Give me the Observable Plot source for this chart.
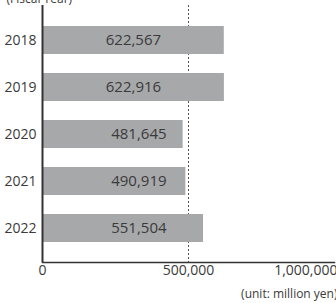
<!DOCTYPE html>
<html><head><meta charset="utf-8">
<script src="https://cdn.jsdelivr.net/npm/d3@7"></script>
<script src="https://cdn.jsdelivr.net/npm/@observablehq/plot@0.6"></script>
<style>body{margin:0;background:#fff;} svg{overflow:visible;}</style>
</head><body><div id="chart"></div>
<script>
const years = ["2018","2019","2020","2021","2022"];
const values = [622567, 622916, 481645, 490919, 551504];
const ticks = [0, 500000, 1000000];
const refLine = 500000;
const unitText = "(unit: million yen)";
const yAxisTitle = "(Fiscal Year)";

const data = years.map((y, i) => ({year: y, value: values[i]}));
const fmt = d3.format(",");
const font = "'Open Sans', 'Noto Sans', sans-serif";

const chart = Plot.plot({
  width: 336, height: 303,
  marginLeft: 42, marginRight: 2, marginTop: 5, marginBottom: 41,
  style: {fontFamily: font, color: "#333", background: "#fff", overflow: "visible"},
  x: {domain: [0, 1000000], axis: null},
  y: {domain: years, padding: 0.41, axis: null},
  marks: [
    Plot.ruleX([refLine], {stroke: "#555", strokeDasharray: "2,2", strokeWidth: 1}),
    Plot.barX(data, {y: "year", x: "value", fill: "#a7a8aa"}),
    Plot.text(data, {y: "year", x: d => d.value >= 600000 ? d.value / 2 : 330000, text: d => fmt(d.value), fill: "#3a3a3a", fontSize: 15}),
    Plot.text(data, {y: "year", frameAnchor: "left", dx: -6, textAnchor: "end", text: "year", fill: "#3a3a3a", fontSize: 14}),
    Plot.ruleX([0], {stroke: "#333", strokeWidth: 2}),
    Plot.frame({anchor: "bottom", stroke: "#333", strokeWidth: 1.5}),
    Plot.text(ticks.slice(0, -1), {x: d => d, frameAnchor: "bottom", dy: 12, text: d => fmt(d), fill: "#3a3a3a", fontSize: 14}),
    Plot.text(ticks.slice(-1), {x: d => d, frameAnchor: "bottom", dy: 12, dx: 3, textAnchor: "end", text: d => fmt(d), fill: "#3a3a3a", fontSize: 14}),
    Plot.text([unitText], {frameAnchor: "bottom-right", dy: 35, dx: 3, textAnchor: "end", text: d => d, fill: "#3a3a3a", fontSize: 12}),
    Plot.text([yAxisTitle], {frameAnchor: "top-left", dx: -36, dy: -11, textAnchor: "start", text: d => d, fill: "#3a3a3a", fontSize: 12})
  ]
});
document.getElementById("chart").appendChild(chart);
</script></body></html>
